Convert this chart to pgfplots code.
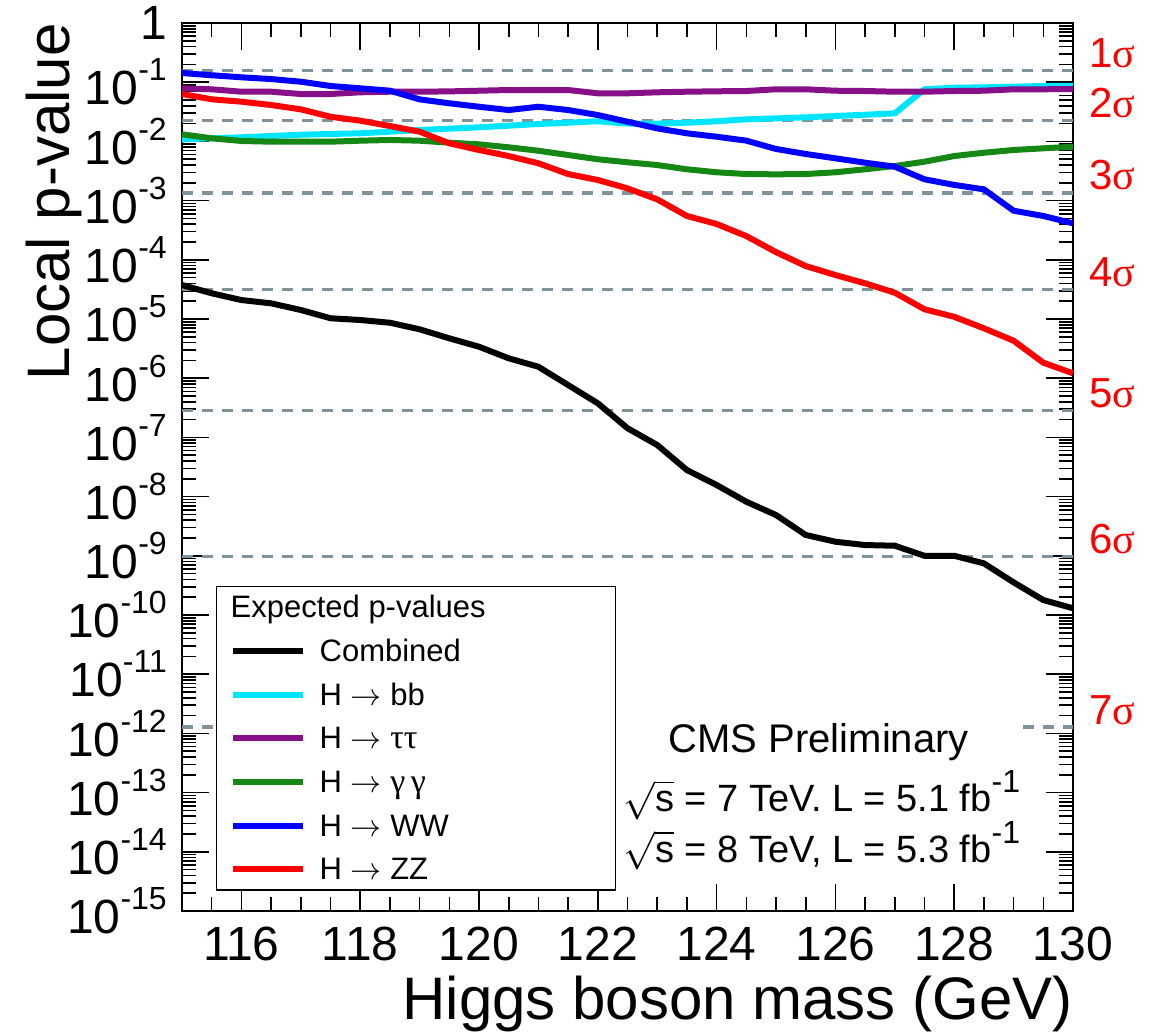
\documentclass[border=0pt]{standalone}
\usepackage{fix-cm}
\usepackage{fontspec}
\setmainfont{Liberation Sans}
\newfontfamily\grk{Liberation Serif}
\usepackage{pgfplots}
\pgfplotsset{compat=1.18}
\definecolor{sigcol}{RGB}{128,146,156}
\definecolor{cyanc}{RGB}{0,229,255}
\definecolor{purp}{RGB}{135,15,135}
\definecolor{grn}{RGB}{20,135,20}
\newcommand\tsup[1]{\raisebox{0.5em}{\fontsize{32}{32}\selectfont #1}}
\newcommand\sig[1]{\textcolor{red}{#1{\grk σ}}}
\newcommand\arr{\ensuremath{\rightarrow}}

\pgfplotstableread{
m p
115 3.75e-5
115.5 2.72e-5
116 2.09e-5
116.5 1.84e-5
117 1.42e-5
117.5 1.03e-5
118 9.62e-6
118.5 8.65e-6
119 6.70e-6
119.5 4.72e-6
120 3.40e-6
120.5 2.17e-6
121 1.56e-6
121.5 7.67e-7
122 3.77e-7
122.5 1.43e-7
123 7.45e-8
123.5 2.81e-8
124 1.57e-8
124.5 8.20e-9
125 4.89e-9
125.5 2.25e-9
126 1.73e-9
126.5 1.52e-9
127 1.48e-9
127.5 1.00e-9
128 1.00e-9
128.5 7.46e-10
129 3.56e-10
129.5 1.79e-10
130 1.30e-10
}\comb

\pgfplotstableread{
m p
115 0.01084
115.5 0.01128
116 0.01173
116.5 0.01233
117 0.01297
117.5 0.01334
118 0.01371
118.5 0.01459
119 0.01559
119.5 0.01640
120 0.01731
120.5 0.01841
121 0.01967
121.5 0.02070
122 0.0219
122.5 0.0200
123 0.0200
123.5 0.0207
124 0.0219
124.5 0.0236
125 0.0245
125.5 0.0255
126 0.0269
126.5 0.0282
127 0.0298
127.5 0.0759
128 0.0807
128.5 0.0820
129 0.0840
129.5 0.0863
130 0.0863
}\bb

\pgfplotstableread{
m p
115 0.0789
115.5 0.0759
116 0.0691
116.5 0.0691
117 0.0632
117.5 0.0632
118 0.0675
118.5 0.0691
119 0.0691
119.5 0.0700
120 0.0718
120.5 0.0738
121 0.0738
121.5 0.0738
122 0.0649
122.5 0.0649
123 0.0675
123.5 0.0691
124 0.0702
124.5 0.0710
125 0.0759
125.5 0.0759
126 0.0718
126.5 0.0710
127 0.0691
127.5 0.0691
128 0.0710
128.5 0.0718
129 0.0759
129.5 0.0759
130 0.0768
}\tautau

\pgfplotstableread{
m p
115 0.01318
115.5 0.01128
116 0.01016
116.5 0.00989
117 0.00989
117.5 0.00989
118 0.01028
118.5 0.01057
119 0.01028
119.5 0.00951
120 0.00893
120.5 0.00795
121 0.00696
121.5 0.00589
122 0.00499
122.5 0.00444
123 0.00399
123.5 0.00338
124 0.00301
124.5 0.00281
125 0.00278
125.5 0.00281
126 0.00301
126.5 0.00338
127 0.00384
127.5 0.00454
128 0.00566
128.5 0.00644
129 0.00716
129.5 0.00764
130 0.00813
}\gamgam

\pgfplotstableread{
m p
115 0.143
115.5 0.131
116 0.121
116.5 0.113
117 0.102
117.5 0.0863
118 0.0789
118.5 0.0719
119 0.0513
119.5 0.0440
120 0.0385
120.5 0.0339
121 0.0385
121.5 0.0339
122 0.0279
122.5 0.0215
123 0.0166
123.5 0.0137
124 0.0120
124.5 0.0103
125 0.00745
125.5 0.00613
126 0.00518
126.5 0.00437
127 0.00374
127.5 0.00229
128 0.00184
128.5 0.00155
129 0.000675
129.5 0.000550
130 0.000413
}\ww

\pgfplotstableread{
m p
115 0.0632
115.5 0.0514
116 0.0469
116.5 0.0412
117 0.0348
117.5 0.0261
118 0.0224
118.5 0.0182
119 0.0146
119.5 0.00929
120 0.00716
120.5 0.00566
121 0.00427
121.5 0.00281
122 0.00223
122.5 0.00161
123 0.00105
123.5 0.00055
124 0.000403
124.5 0.000252
125 0.000135
125.5 7.85e-5
126 5.53e-5
126.5 4.01e-5
127 2.78e-5
127.5 1.46e-5
128 1.09e-5
128.5 6.97e-6
129 4.30e-6
129.5 1.83e-6
130 1.21e-6
}\zz

\begin{document}
\begin{tikzpicture}
\begin{axis}[
  scale only axis,
  width=891pt, height=888pt,
  xmin=115, xmax=130,
  ymode=log, ymin=1e-15, ymax=1,
  clip=false,
  axis line style={line width=2.5pt},
  tick style={line width=1.6pt, black},
  major tick length=27pt,
  minor tick length=14pt,
  tick align=inside,
  xtick={116,118,...,130},
  minor xtick={115.5,116,...,130},
  ytick={1e-15,1e-14,1e-13,1e-12,1e-11,1e-10,1e-9,1e-8,1e-7,1e-6,1e-5,1e-4,1e-3,1e-2,1e-1,1},
  yticklabels={10\tsup{-15},10\tsup{-14},10\tsup{-13},10\tsup{-12},10\tsup{-11},10\tsup{-10},10\tsup{-9},10\tsup{-8},10\tsup{-7},10\tsup{-6},10\tsup{-5},10\tsup{-4},10\tsup{-3},10\tsup{-2},10\tsup{-1},1},
  minor ytick={2e-15,3e-15,4e-15,5e-15,6e-15,7e-15,8e-15,9e-15,
  2e-14,3e-14,4e-14,5e-14,6e-14,7e-14,8e-14,9e-14,
  2e-13,3e-13,4e-13,5e-13,6e-13,7e-13,8e-13,9e-13,
  2e-12,3e-12,4e-12,5e-12,6e-12,7e-12,8e-12,9e-12,
  2e-11,3e-11,4e-11,5e-11,6e-11,7e-11,8e-11,9e-11,
  2e-10,3e-10,4e-10,5e-10,6e-10,7e-10,8e-10,9e-10,
  2e-9,3e-9,4e-9,5e-9,6e-9,7e-9,8e-9,9e-9,
  2e-8,3e-8,4e-8,5e-8,6e-8,7e-8,8e-8,9e-8,
  2e-7,3e-7,4e-7,5e-7,6e-7,7e-7,8e-7,9e-7,
  2e-6,3e-6,4e-6,5e-6,6e-6,7e-6,8e-6,9e-6,
  2e-5,3e-5,4e-5,5e-5,6e-5,7e-5,8e-5,9e-5,
  2e-4,3e-4,4e-4,5e-4,6e-4,7e-4,8e-4,9e-4,
  2e-3,3e-3,4e-3,5e-3,6e-3,7e-3,8e-3,9e-3,
  2e-2,3e-2,4e-2,5e-2,6e-2,7e-2,8e-2,9e-2,
  2e-1,3e-1,4e-1,5e-1,6e-1,7e-1,8e-1,9e-1},
  /pgf/number format/assume math mode=true,
  xticklabel style={font=\fontsize{48}{48}\selectfont, inner sep=0pt, yshift=-16pt},
  yticklabel style={font=\fontsize{48}{48}\selectfont, inner sep=0pt, xshift=-15pt},
  legend style={at={(rel axis cs:0.0382,0.366)}, anchor=north west,
    draw=black, line width=1.3pt, fill=white,
    inner xsep=13pt, inner ysep=4pt, column sep=12pt, row sep=10.7pt,
    font=\fontsize{31}{31}\selectfont,
    nodes={inner sep=2pt, text height=25pt, text depth=4pt}},
  legend cell align=left,
  legend image code/.code={\draw[#1, line width=6pt] (0pt,0pt) -- (70pt,0pt);},
]
\addlegendimage{empty legend}
\addlegendentry{\hspace*{-89pt}\makebox[370pt][l]{Expected p-values}}

% sigma thresholds
\pgfplotsset{sigline/.style={forget plot, sigcol, line width=3.3pt, dash pattern=on 11pt off 9pt}}
\addplot[sigline] coordinates {(115,0.1587) (130,0.1587)};
\addplot[sigline] coordinates {(115,0.02275) (130,0.02275)};
\addplot[sigline] coordinates {(115,0.00135) (130,0.00135)};
\addplot[sigline] coordinates {(115,3.167e-5) (130,3.167e-5)};
\addplot[sigline] coordinates {(115,2.867e-7) (130,2.867e-7)};
\addplot[sigline] coordinates {(115,9.866e-10) (130,9.866e-10)};
\addplot[sigline] coordinates {(115,1.28e-12) (122.4,1.28e-12)};
\addplot[sigline] coordinates {(129.15,1.28e-12) (130,1.28e-12)};

\addplot[black, line width=6pt] table[x=m,y=p] {\comb};
\addlegendentry{Combined}
\addplot[cyanc, line width=6pt] table[x=m,y=p] {\bb};
\addlegendentry{H \arr{} bb}
\addplot[purp, line width=6pt] table[x=m,y=p] {\tautau};
\addlegendentry{H \arr{} {\grk\fontsize{34}{34}\selectfont ττ}}
\addplot[grn, line width=6pt] table[x=m,y=p] {\gamgam};
\addlegendentry{H \arr{} {\grk\fontsize{34}{34}\selectfont γ\,γ}}
\addplot[blue, line width=6pt] table[x=m,y=p] {\ww};
\addlegendentry{H \arr{} WW}
\addplot[red, line width=6pt] table[x=m,y=p] {\zz};
\addlegendentry{H \arr{} ZZ}

% sigma labels
\node[anchor=base west, font=\fontsize{42}{42}\selectfont] at ([xshift=13pt,yshift=3pt]axis cs:130,0.1587) {\sig{1}};
\node[anchor=base west, font=\fontsize{42}{42}\selectfont] at ([xshift=13pt,yshift=3pt]axis cs:130,0.02275) {\sig{2}};
\node[anchor=base west, font=\fontsize{42}{42}\selectfont] at ([xshift=13pt,yshift=3pt]axis cs:130,0.00135) {\sig{3}};
\node[anchor=base west, font=\fontsize{42}{42}\selectfont] at ([xshift=13pt,yshift=3pt]axis cs:130,3.167e-5) {\sig{4}};
\node[anchor=base west, font=\fontsize{42}{42}\selectfont] at ([xshift=13pt,yshift=3pt]axis cs:130,2.867e-7) {\sig{5}};
\node[anchor=base west, font=\fontsize{42}{42}\selectfont] at ([xshift=13pt,yshift=3pt]axis cs:130,9.866e-10) {\sig{6}};
\node[anchor=base west, font=\fontsize{42}{42}\selectfont] at ([xshift=13pt,yshift=3pt]axis cs:130,1.28e-12) {\sig{7}};

% CMS text
\node[anchor=base, font=\fontsize{40}{40}\selectfont, inner sep=0pt] at (axis cs:125.72,4.72e-13) {CMS Preliminary};
\node[anchor=base, font=\fontsize{38}{38}\selectfont, inner sep=0pt] at (axis cs:125.77,4.78e-14) {$\sqrt{\mbox{s}}$ = 7 TeV. L = 5.1 fb\tsup{-1}};
\node[anchor=base, font=\fontsize{38}{38}\selectfont, inner sep=0pt] at (axis cs:125.77,6.6e-15) {$\sqrt{\mbox{s}}$ = 8 TeV, L = 5.3 fb\tsup{-1}};

% axis labels
\node[rotate=90, anchor=base east, font=\fontsize{60}{60}\selectfont, inner sep=0pt] at ([xshift=-112pt]rel axis cs:0,1) {Local p-value};
\node[anchor=base east, font=\fontsize{60}{60}\selectfont, inner sep=0pt] at ([yshift=-108pt]rel axis cs:1,0) {Higgs boson mass (GeV)};
\end{axis}
\path (current axis.south west) ++(-182pt,-120pt) rectangle ++(1154pt,1031pt);
\end{tikzpicture}
\end{document}
